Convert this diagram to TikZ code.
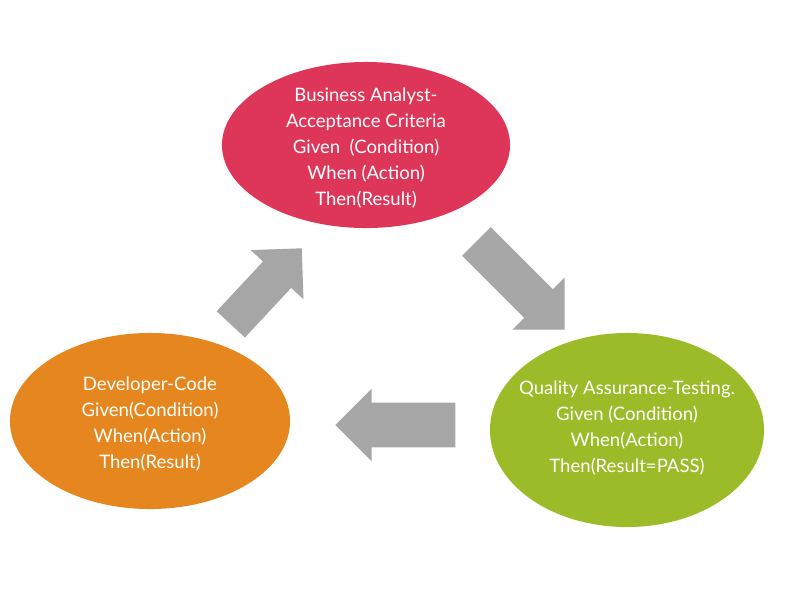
\documentclass[tikz,border=0pt]{standalone}
\usepackage{fontspec}
\setmainfont{Lato}
\usetikzlibrary{shapes.geometric,shapes.arrows}

\definecolor{bapink}{RGB}{222,54,88}
\definecolor{devorange}{RGB}{229,134,30}
\definecolor{qagreen}{RGB}{155,188,40}
\definecolor{arrowgray}{RGB}{166,166,166}

\begin{document}
\begin{tikzpicture}[
  x=0.025cm, y=-0.025cm,
  phase/.style={ellipse, draw=none, inner sep=0pt},
  phasetext/.style={text=white, align=center, inner sep=0pt,
                    font=\fontsize{13.2}{18.6}\selectfont},
  blockarr/.style={single arrow, fill=arrowgray, draw=none, inner xsep=0pt,
                   single arrow tip angle=90, anchor=tip}
]
\useasboundingbox (0,0) rectangle (800,600);

% Phases
\node[phase, fill=bapink, minimum width=7.2cm, minimum height=4.15cm] (ba) at (366,145) {};
\node[phase, fill=devorange, minimum width=7cm, minimum height=4.4cm] (dev) at (150,421) {};
\node[phase, fill=qagreen, minimum width=6.85cm, minimum height=4.85cm] (qa) at (627,430) {};

\node[phasetext] (ba-txt) at ([yshift=-0.08cm]ba) {Business Analyst-\\Acceptance Criteria\\Given\ \ (Condition)\\When (Action)\\Then(Result)};
\node[phasetext] (dev-txt) at ([yshift=-0.08cm]dev) {Developer-Code\\Given(Condition)\\When(Action)\\Then(Result)};
\node[phasetext] (qa-txt) at ([yshift=0.05cm]qa) {Quality Assurance-Testing.\\Given (Condition)\\When(Action)\\Then(Result=PASS)};

% Cycle arrows
\node[blockarr, rotate=47, minimum height=2.6cm, inner ysep=0.475cm,
      single arrow head extend=0.42cm] (dev-ba) at (302,248) {};
\node[blockarr, rotate=-45, minimum height=3.12cm, inner ysep=0.5cm,
      single arrow head extend=0.42cm] (ba-qa) at (565,330) {};
\node[blockarr, rotate=180, minimum height=3cm, inner ysep=0.55cm,
      single arrow head extend=0.35cm] (qa-dev) at (335,425) {};

\end{tikzpicture}
\end{document}
